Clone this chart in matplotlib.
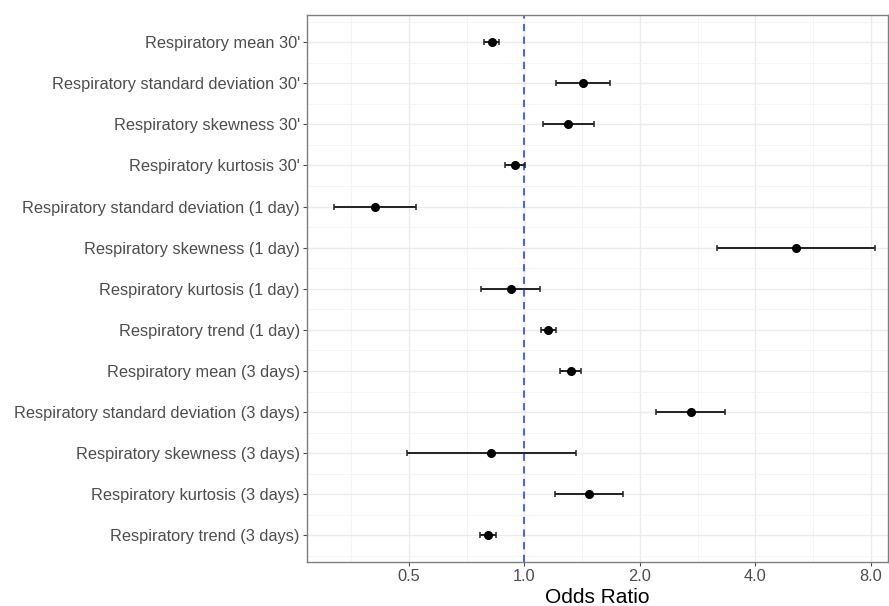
import matplotlib
matplotlib.use("Agg")
import matplotlib.pyplot as plt
import numpy as np

labels = [
    "Respiratory mean 30'",
    "Respiratory standard deviation 30'",
    "Respiratory skewness 30'",
    "Respiratory kurtosis 30'",
    "Respiratory standard deviation (1 day)",
    "Respiratory skewness (1 day)",
    "Respiratory kurtosis (1 day)",
    "Respiratory trend (1 day)",
    "Respiratory mean (3 days)",
    "Respiratory standard deviation (3 days)",
    "Respiratory skewness (3 days)",
    "Respiratory kurtosis (3 days)",
    "Respiratory trend (3 days)",
]
odds = [0.822, 1.421, 1.302, 0.945, 0.408, 5.10, 0.922, 1.152, 1.320, 2.715, 0.818, 1.477, 0.803]
lower = [0.784, 1.211, 1.121, 0.891, 0.319, 3.18, 0.773, 1.107, 1.241, 2.206, 0.495, 1.206, 0.768]
upper = [0.860, 1.676, 1.520, 1.004, 0.522, 8.19, 1.097, 1.208, 1.405, 3.339, 1.365, 1.814, 0.845]
xticks = [0.5, 1.0, 2.0, 4.0, 8.0]
xticklabels = ["0.5", "1.0", "2.0", "4.0", "8.0"]

plt.rcParams['font.family'] = ['Liberation Sans', 'DejaVu Sans']

fig = plt.figure(figsize=(8.89, 6.06), dpi=100)
ax = fig.add_axes([0.3451, 0.0731, 0.6537, 0.9022])

n = len(labels)
y = np.arange(n)
odds_a = np.array(odds)
lo = odds_a - np.array(lower)
hi = np.array(upper) - odds_a

ax.set_xscale('log', base=2)
left_lim = 2 ** ((306.8 - 524.3) / 115.5)
right_lim = 2 ** ((888.0 - 524.3) / 115.5)
ax.set_xlim(left_lim, right_lim)
ax.set_ylim(n - 1 + 0.64, -0.66)

# grid
for v in xticks:
    ax.axvline(v, color='#EBEBEB', lw=1.0, zorder=0)
for e in [-1.5, -0.5, 0.5, 1.5, 2.5]:
    ax.axvline(2 ** e, color='#F3F3F3', lw=0.6, zorder=0)
for yy in y:
    ax.axhline(yy, color='#EBEBEB', lw=1.0, zorder=0)
for yy in np.arange(-0.5, n, 1.0):
    ax.axhline(yy, color='#F3F3F3', lw=0.6, zorder=0)

ax.axvline(1.0, color='#3355FF', lw=1.3, ls=(0, (4, 3)), zorder=1)

ax.errorbar(odds_a, y, xerr=[lo, hi], fmt='o', color='black', ecolor='#222222',
            elinewidth=1.4, capsize=2.5, capthick=1.1, markersize=5.5, zorder=3)

ax.set_xticks(xticks)
ax.set_xticklabels(xticklabels)
ax.xaxis.set_minor_locator(matplotlib.ticker.NullLocator())
ax.set_yticks(y)
ax.set_yticklabels(labels)
ax.tick_params(axis='both', colors='#4D4D4D', labelsize=11.8, length=3, width=0.8,
               labelcolor='#4D4D4D')
ax.tick_params(axis='x', pad=2)
ax.tick_params(axis='y', pad=2)
for s in ax.spines.values():
    s.set_color('#7F7F7F')
    s.set_linewidth(1.0)
ax.set_xlabel('Odds Ratio', fontsize=15, color='black', labelpad=3)

fig.savefig('out.png', dpi=100)
